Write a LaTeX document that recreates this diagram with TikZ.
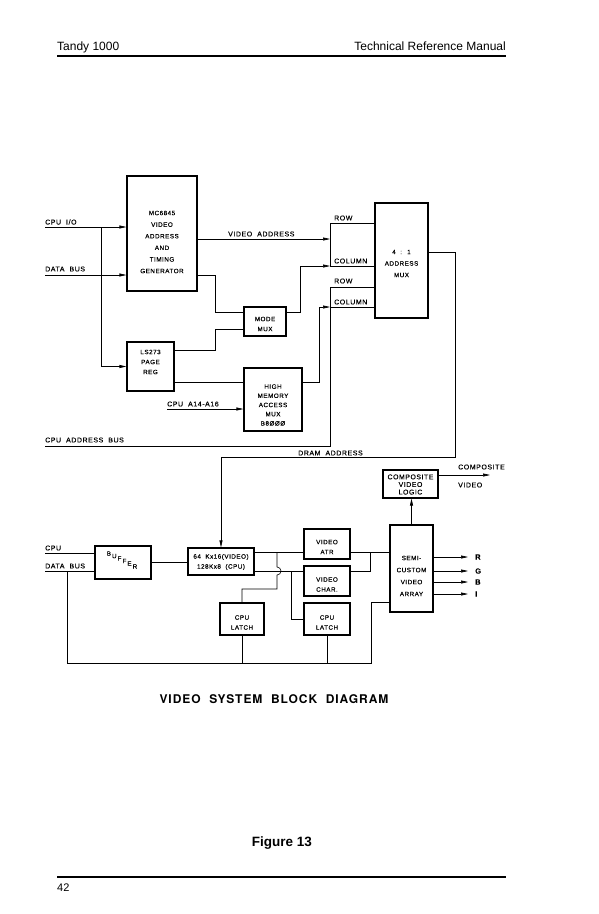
\documentclass[tikz,border=0pt]{standalone}
\usepackage{fontspec}
\setmainfont{Liberation Sans}
\newfontfamily\lblfont[LetterSpace=8,WordSpace=2,FakeBold=0.2]{Liberation Sans}
\newfontfamily\ttlfont[LetterSpace=8,WordSpace=2]{TeX Gyre Heros}
\usetikzlibrary{arrows.meta}
\tikzset{
>={Triangle[length=7pt,width=3pt]},
wire/.style={draw, line width=0.6pt},
blk/.style={draw, line width=1.1pt, inner sep=0pt},
intxt/.style={inner sep=0pt, align=center, font=\lblfont\fontsize{6.3}{#1}\selectfont},
intxt/.default=10,
lbl/.style={inner sep=0pt, anchor=west, font=\lblfont\fontsize{7}{8}\selectfont},
}
\begin{document}
\begin{tikzpicture}[x=1pt,y=-1pt]
    \useasboundingbox (0,0) rectangle (598,914);
    % page head and foot
    \node[anchor=base west, inner sep=0pt, font=\fontsize{12}{14}\selectfont] (head) at (57,50) {Tandy 1000};
    \node[anchor=base east, inner sep=0pt, font=\fontsize{12}{14}\selectfont] (manual) at (506,50) {Technical Reference Manual};
    \coordinate (hl) at (57,56);
    \coordinate (hr) at (506,56);
    \draw[line width=1.6pt] (hl) -- (hr);
    \node[anchor=base, inner sep=0pt, font=\ttlfont\bfseries\fontsize{12}{14}\selectfont] (title) at (274,703) {VIDEO SYSTEM BLOCK DIAGRAM};
    \node[anchor=base, inner sep=0pt, font=\bfseries\fontsize{13.5}{15}\selectfont] (fig) at (282,846) {Figure 13};
    \coordinate (fl) at (57,877);
    \coordinate (fr) at (506,877);
    \draw[line width=1.6pt] (fl) -- (fr);
    \node[anchor=base west, inner sep=0pt, font=\fontsize{11}{13}\selectfont] (page) at (57,891) {42};

    % upper half: address path
    \node[blk, minimum width=70pt, minimum height=115pt] (crtc) at (162,233.5) {};
    \node[intxt=11.6] (crtc-t) at (162,242) {MC6845\\VIDEO\\ADDRESS\\AND\\TIMING\\GENERATOR};
    \node[blk, minimum width=47pt, minimum height=49pt] (pagereg) at (150.5,366.5) {};
    \node[intxt] (pagereg-t) at (150.5,362) {LS273\\PAGE\\REG};
    \node[blk, minimum width=42pt, minimum height=29pt] (modemux) at (265,321.5) {};
    \node[intxt] (modemux-t) at (265,324) {MODE\\MUX};
    \node[blk, minimum width=58pt, minimum height=63pt] (hmam) at (273,399.5) {};
    \node[intxt=9.2] (hmam-t) at (273,405) {HIGH\\MEMORY\\ACCESS\\MUX\\B8ØØØ};
    \node[blk, minimum width=53pt, minimum height=115pt] (amux) at (401.5,260.5) {};
    \node[intxt=11.5] (amux-t) at (401.5,263.5) {4 : 1\\ADDRESS\\MUX};

    \node[lbl] (cpuio-l) at (45,222) {CPU I/O};
    \node[lbl] (dbus-l) at (45,269) {DATA BUS};
    \node[lbl] (vaddr-l) at (228,234) {VIDEO ADDRESS};
    \node[lbl] (rowA-l) at (334,218) {ROW};
    \node[lbl] (colA-l) at (334,261) {COLUMN};
    \node[lbl] (rowB-l) at (334,281) {ROW};
    \node[lbl] (colB-l) at (334,302) {COLUMN};
    \node[lbl] (a14-l) at (167,404) {CPU A14-A16};
    \node[lbl] (cab-l) at (45,440) {CPU ADDRESS BUS};
    \node[lbl] (dram-l) at (298,453) {DRAM ADDRESS};

    \coordinate (cpuio) at (45,227);
    \coordinate (dbus) at (45,275);
    \coordinate (tap) at (101,227);
    \coordinate (vaddr) at (330,239);
    \coordinate (rowA) at (330,223);
    \coordinate (colA) at (330,266);
    \coordinate (rowB) at (330,287);
    \coordinate (colB) at (330,307);
    \coordinate (a14) at (167,409);
    \coordinate (cab) at (45,446);

    \draw[wire,->] (cpuio) -- (cpuio -| crtc.west);
    \draw[wire,->] (dbus) -- (dbus -| crtc.west);
    \draw[wire,->] (tap) |- (pagereg.west);
    \draw[wire,->] (vaddr -| crtc.east) -- (vaddr);
    \draw[wire] (rowA -| amux.west) -- (rowA) -- (colA) -- (colA -| amux.west);
    \draw[wire] ([yshift=-41.5pt]crtc.east) -| (215,312) -- ([yshift=9.5pt]modemux.west);
    \draw[wire] ([yshift=16.5pt]pagereg.east) -| (215,329) -- ([yshift=-7.5pt]modemux.west);
    \draw[wire,->] ([yshift=9.5pt]modemux.east) -| (300,266) -- (colA);
    \draw[wire] ([yshift=-15.5pt]pagereg.east) -- ([yshift=17.5pt]hmam.west);
    \draw[wire,->] (a14) -- (a14 -| hmam.west);
    \draw[wire,->] ([yshift=17.5pt]hmam.east) -| (319,307) -- (colB);
    \draw[wire] (cab) -| (rowB) -- (rowB -| amux.west);
    \draw[wire] (colB) -- (colB -| amux.west);

    % lower half: memory and video
    \node[blk, minimum width=56pt, minimum height=33pt] (buffer) at (123,562.5) {};
    \node[intxt] (buffer-t) at (122,560) {\raisebox{7pt}{B}\,\raisebox{4.5pt}{U}\,\raisebox{2pt}{F}\,\raisebox{-0.5pt}{F}\,\raisebox{-3pt}{E}\,\raisebox{-6pt}{R}};
    \node[blk, minimum width=66pt, minimum height=27pt] (mem) at (221,561.5) {};
    \node[intxt] (mem-t) at (221,562) {64 Kx16(VIDEO)\\128Kx8 (CPU)};
    \node[blk, minimum width=46pt, minimum height=30pt] (atr) at (327,544) {};
    \node[intxt] (atr-t) at (327,547) {VIDEO\\ATR};
    \node[blk, minimum width=46pt, minimum height=30pt] (chr) at (327,581) {};
    \node[intxt] (chr-t) at (327,584.5) {VIDEO\\CHAR.};
    \node[blk, minimum width=46pt, minimum height=32pt] (latchR) at (327,619) {};
    \node[intxt] (latchR-t) at (327,622.5) {CPU\\LATCH};
    \node[blk, minimum width=44pt, minimum height=32pt] (latchL) at (242,619) {};
    \node[intxt] (latchL-t) at (242,622.5) {CPU\\LATCH};
    \node[blk, minimum width=43pt, minimum height=87pt] (semi) at (411.5,568.5) {};
    \node[intxt=12] (semi-t) at (411.5,576) {SEMI-\\CUSTOM\\VIDEO\\ARRAY};
    \node[blk, minimum width=55pt, minimum height=28pt] (comp) at (410.5,484) {};
    \node[intxt=7.6, font=\lblfont\fontsize{6.9}{7.6}\selectfont] (comp-t) at (410.5,484.5) {COMPOSITE\\VIDEO\\LOGIC};

    \node[lbl] (cpu-l) at (45,548) {CPU};
    \node[lbl] (dbus2-l) at (45,566) {DATA BUS};
    \node[lbl] (cvid1-l) at (458,467) {COMPOSITE};
    \node[lbl] (cvid2-l) at (458,485) {VIDEO};

    \coordinate (cpu) at (45,553);
    \coordinate (dbus2) at (45,571);
    \coordinate (tap2) at (67,571);
    \coordinate (ret) at (67,663);
    \coordinate (mtop) at (277,552);
    \coordinate (mbot) at (291,571);
    \coordinate (join) at (370,552);
    \coordinate (cvid) at (490,475);

    \draw[wire,->] ([yshift=8.5pt]amux.east) -| (455,457) -| (mem.north);
    \draw[wire] (cpu) -- (cpu -| buffer.west);
    \draw[wire] (dbus2) -- (dbus2 -| buffer.west);
    \draw[wire] (tap2) -- (ret) -| (371,602) -- ([yshift=-33.5pt]semi.west);
    \draw[wire] (latchL.south) -- (latchL.south |- ret);
    \draw[wire] (latchR.south) -- (latchR.south |- ret);
    \draw[wire] (buffer.east) -- (buffer.east -| mem.west);
    \draw[wire] ([yshift=9.5pt]mem.east) -- (mtop -| atr.west);
    \draw[wire] (mtop) -- (277,567) arc[start angle=90, end angle=-90, radius=4pt] -- (277,589) -| (latchL.north);
    \draw[wire] ([yshift=-9.5pt]mem.east) -- (mbot -| chr.west);
    \draw[wire] (mbot) |- (latchR.west);
    \draw[wire] (join -| atr.east) -- (join -| semi.west);
    \draw[wire] (chr.east |- mbot) -| (join);
    \draw[wire,->] (semi.north) -- (semi.north |- comp.south);
    \draw[wire,->] (cvid -| comp.east) -- (cvid);
    \foreach \c/\y in {R/557,G/571,B/582,I/594} {
      \coordinate (out\c) at (468,\y);
      \draw[wire,->] (semi.east |- out\c) -- (out\c);
      \node[lbl, font=\lblfont\bfseries\fontsize{7.5}{9}\selectfont] (lbl\c) at (475,\y) {\c};
    }
    %\draw[help lines] (0,0) grid[step=50] (598,914);
\end{tikzpicture}
\end{document}
